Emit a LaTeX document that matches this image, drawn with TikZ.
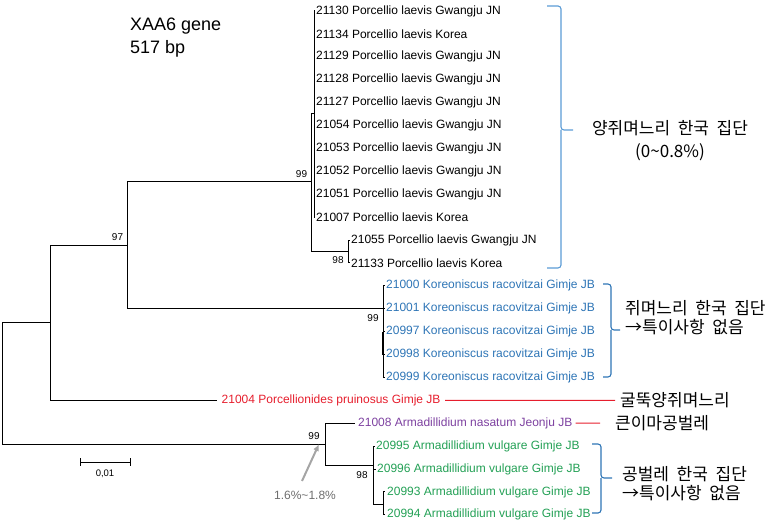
\documentclass[tikz,border=0pt]{standalone}
\usepackage{fontspec}
\setmainfont{Liberation Sans}
\newfontfamily\krfont[WordSpace=2]{Noto Sans CJK KR}
\usetikzlibrary{arrows.meta}

\definecolor{porblue}{RGB}{91,155,213}
\definecolor{korblue}{RGB}{46,117,182}
\definecolor{prured}{RGB}{230,30,45}
\definecolor{nasviolet}{RGB}{125,65,160}
\definecolor{vulgreen}{RGB}{35,160,85}
\definecolor{notegray}{RGB}{110,110,110}
\definecolor{arrgray}{RGB}{165,165,165}

\tikzset{
  branch/.style={line width=1pt},
  leaf/.style={anchor=west, inner sep=1pt, font=\fontsize{12}{14}\selectfont},
  boot/.style={inner sep=0pt, font=\fontsize{10}{12}\selectfont},
  group/.style={inner sep=0pt, align=left, font=\krfont\fontsize{17}{19}\selectfont},
  bracket/.style={line width=1.1pt, rounded corners=3pt},
}

\begin{document}
\begin{tikzpicture}[x=1pt,y=-1pt]
  \useasboundingbox (0,0) rectangle (775,529);

  \node[anchor=west, align=left, inner sep=0pt, font=\fontsize{18}{23}\selectfont] (title) at (130,38) {XAA6 gene\\517 bp};

  % inner nodes of the tree
  \coordinate (root) at (2,383);
  \coordinate (nA) at (50,322);
  \coordinate (nB) at (127,245);
  \coordinate (nC) at (311,182);
  \coordinate (nE) at (314,114);
  \coordinate (nF) at (348,251);
  \coordinate (nD) at (383,308);
  \coordinate (nG) at (325,444);
  \coordinate (nH) at (373,465);
  \coordinate (nI) at (383,504);

  \draw[branch] (root) |- (nA) (root) |- (nG);
  \draw[branch] (nA) |- (nB) (nB) |- (nC) (nB) |- (nD);
  \draw[branch] (nC) |- (nE) (nC) |- (nF);
  \draw[branch] (nG) |- (nH) (nH) |- (nI);

  % Porcellio laevis
  \foreach \id/\place [count=\k from 0] in {21130/Gwangju JN, 21134/Korea, 21129/Gwangju JN, 21128/Gwangju JN, 21127/Gwangju JN, 21054/Gwangju JN, 21053/Gwangju JN, 21052/Gwangju JN, 21051/Gwangju JN, 21007/Korea} {
    \node[leaf] (l\id) at (315,{11+22.9*\k}) {\id\ Porcellio laevis \place};
    \draw[branch] (nE) |- (l\id.west);
  }
  \foreach \id/\place [count=\k from 10] in {21055/Gwangju JN, 21133/Korea} {
    \node[leaf] (l\id) at (350,{11+22.9*\k}) {\id\ Porcellio laevis \place};
    \draw[branch] (nF) |- (l\id.west);
  }

  % Koreoniscus racovitzai
  \foreach \id [count=\k from 12] in {21000, 21001, 20997, 20998, 20999} {
    \node[leaf, text=korblue] (l\id) at (385,{11+22.9*\k}) {\id\ Koreoniscus racovitzai Gimje JB};
    \draw[branch] (nD) |- (l\id.west);
  }
  \draw[line width=2.2pt] (l20997.west -| nD) -- (l20998.west -| nD);

  % Porcellionides and Armadillidium
  \node[leaf, text=prured, inner xsep=4.5pt] (l21004) at (217,{11+22.9*17}) {21004 Porcellionides pruinosus Gimje JB};
  \draw[branch] (nA) |- (l21004.west);
  \node[leaf, text=nasviolet, inner xsep=3pt] (l21008) at (355,{11+22.9*18}) {21008 Armadillidium nasatum Jeonju JB};
  \draw[branch] (nG) |- (l21008.west);
  \node[leaf, text=vulgreen, inner xsep=1.5pt] (l20995) at (374.5,{11+22.9*19}) {20995 Armadillidium vulgare Gimje JB};
  \node[leaf, text=vulgreen, inner xsep=1.5pt] (l20996) at (375.5,{11+22.9*20}) {20996 Armadillidium vulgare Gimje JB};
  \draw[branch] (nH) |- (l20995.west) (nH) |- (l20996.west);
  \foreach \id [count=\k from 21] in {20993, 20994} {
    \node[leaf, text=vulgreen, inner xsep=2pt] (l\id) at (385,{11+22.9*\k}) {\id\ Armadillidium vulgare Gimje JB};
    \draw[branch] (nI) |- (l\id.west);
  }

  % bootstrap values
  \node[boot] (b97) at (117.5,237.5) {97};
  \node[boot] (b99c) at (301.5,174.5) {99};
  \node[boot] (b98f) at (338,260) {98};
  \node[boot] (b99d) at (373,318) {99};
  \node[boot] (b99g) at (314,436) {99};
  \node[boot] (b98h) at (362,475) {98};

  % scale
  \coordinate (sb1) at (80,462);
  \coordinate (sb2) at (130,462);
  \draw[branch] (sb1) -- (sb2) (sb1) ++(0,-4) -- ++(0,8) (sb2) ++(0,-4) -- ++(0,8);
  \node[inner sep=0pt, font=\fontsize{9.5}{11}\selectfont] (sblbl) at (105,474) {0,01};

  % distance note
  \node[inner sep=0pt, text=notegray, font=\fontsize{12}{14}\selectfont] (gaplbl) at (305,495) {1.6\%\textasciitilde1.8\%};
  \coordinate (gaptail) at (302,481);
  \coordinate (gaptip) at (319,444);
  \draw[arrgray, line width=2pt, -{Latex[length=7pt,width=6pt]}] (gaptail) -- (gaptip);

  % groups
  \draw[bracket, porblue] (547,6) -- (561,6) -- (561,130) -- (573,130);
  \draw[bracket, porblue] (547,268) -- (561,268) -- (561,130);
  \node[group, align=center, font=\krfont\fontsize{17}{23}\selectfont] (gpor) at (670,141) {양쥐며느리 한국 집단\\(0\textasciitilde0.8\%)};

  \draw[bracket, korblue] (603,284) -- (611,284) -- (611,330) -- (620,330);
  \draw[bracket, korblue] (603,377) -- (611,377) -- (611,330);
  \node[group, anchor=west] (gkor) at (625,318) {쥐며느리 한국 집단\\→특이사항 없음};

  \draw[bracket, korblue] (592,444) -- (601,444) -- (601,478) -- (612,478);
  \draw[bracket, korblue] (592,513) -- (601,513) -- (601,478);
  \node[group, anchor=west] (gvul) at (622,484) {공벌레 한국 집단\\→특이사항 없음};

  \node[group, anchor=west, inner xsep=5pt] (kpru) at (615,400.3) {굴뚝양쥐며느리};
  \draw[prured, line width=1pt] (l21004) -- (kpru);
  \node[group, anchor=west, inner xsep=1pt] (knas) at (614,423) {큰이마공벌레};
  \draw[prured, line width=1pt, shorten >=14pt] (l21008) -- (knas);
\end{tikzpicture}
\end{document}
